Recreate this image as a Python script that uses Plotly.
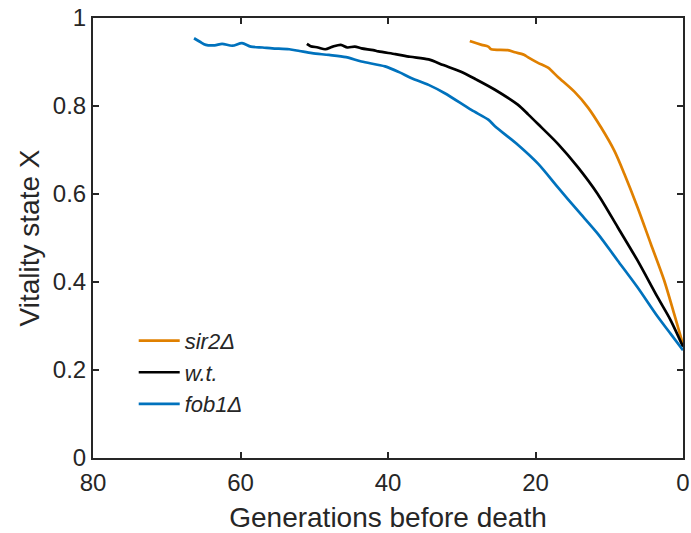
import plotly.graph_objects as go

# Generations before death (x) and vitality state X (y)
sir2_gen = [28.9, 28.6, 27.3, 26.4, 26.0, 23.75, 22.8, 21.5, 21.05, 19.66, 18.3, 16.96, 14.7, 12.9, 11.1, 9.3, 7.96, 6.17, 4.37, 2.56, 1.21, 0.0]
sir2_val = [0.948, 0.946, 0.939, 0.935, 0.929, 0.927, 0.922, 0.916, 0.911, 0.898, 0.887, 0.866, 0.832, 0.797, 0.751, 0.698, 0.646, 0.570, 0.487, 0.404, 0.328, 0.258]

wt_gen = [51.0, 50.5, 49.5, 48.5, 47.5, 46.4, 45.5, 44.5, 43.6, 42.0, 41.3, 39.0, 37.0, 34.5, 32.5, 30.1, 28.0, 25.5, 22.4, 21.0, 19.66, 16.96, 14.26, 11.57, 8.87, 6.17, 3.47, 1.67, 0.0]
wt_val = [0.941, 0.936, 0.933, 0.929, 0.935, 0.939, 0.933, 0.935, 0.931, 0.927, 0.924, 0.918, 0.912, 0.906, 0.893, 0.878, 0.860, 0.837, 0.803, 0.781, 0.759, 0.714, 0.661, 0.600, 0.525, 0.449, 0.366, 0.313, 0.253]

fob1_gen = [66.3, 65.5, 64.7, 63.5, 62.5, 61.1, 59.8, 58.6, 57.0, 55.7, 53.4, 52.0, 50.3, 48.0, 45.7, 43.6, 40.4, 38.5, 36.8, 34.5, 32.3, 28.7, 26.4, 25.5, 22.4, 19.66, 16.96, 14.26, 11.57, 8.87, 6.17, 3.47, 1.67, 0.0]
fob1_val = [0.954, 0.946, 0.939, 0.938, 0.941, 0.937, 0.943, 0.935, 0.933, 0.931, 0.929, 0.925, 0.920, 0.916, 0.911, 0.901, 0.890, 0.877, 0.863, 0.848, 0.829, 0.791, 0.769, 0.754, 0.712, 0.669, 0.615, 0.562, 0.510, 0.449, 0.388, 0.322, 0.282, 0.245]

x_ticks = [80, 60, 40, 20, 0]
y_ticks = [0, 0.2, 0.4, 0.6, 0.8, 1]
y_tick_labels = ["0", "0.2", "0.4", "0.6", "0.8", "1"]

FONT = "Liberation Sans, Arial, sans-serif"
AX = "#262626"

fig = go.Figure()
fig.add_trace(go.Scatter(x=sir2_gen, y=sir2_val, mode="lines", name="<i>sir2Δ</i>",
                         line=dict(color="#E08000", width=2.7, shape="spline", smoothing=0.8)))
fig.add_trace(go.Scatter(x=wt_gen, y=wt_val, mode="lines", name="<i>w.t.</i>",
                         line=dict(color="#000000", width=2.7, shape="spline", smoothing=0.8)))
fig.add_trace(go.Scatter(x=fob1_gen, y=fob1_val, mode="lines", name="<i>fob1Δ</i>",
                         line=dict(color="#0072BD", width=2.7, shape="spline", smoothing=0.8)))

axis_common = dict(showline=True, linecolor=AX, linewidth=2, mirror="ticks",
                   ticks="inside", ticklen=6, tickwidth=2, tickcolor=AX,
                   showgrid=False, zeroline=False, automargin=False,
                   ticklabeloverflow="allow",
                   tickfont=dict(family=FONT, size=24, color=AX))

fig.update_xaxes(range=[80, 0], tickvals=x_ticks, ticktext=[str(t) for t in x_ticks],
                 ticklabelstandoff=2,
                 title=dict(text="Generations before death", font=dict(family=FONT, size=28, color=AX), standoff=14),
                 **axis_common)
fig.update_yaxes(range=[0, 1], tickvals=y_ticks, ticktext=y_tick_labels,
                 title=dict(text="Vitality state X", font=dict(family=FONT, size=28, color=AX), standoff=5),
                 **axis_common)

fig.update_layout(
    width=691, height=533,
    margin=dict(l=93, r=8, t=18, b=75),
    paper_bgcolor="white", plot_bgcolor="white",
    showlegend=True,
    legend=dict(x=0.069, y=0.314, xanchor="left", yanchor="top",
                bgcolor="rgba(0,0,0,0)", borderwidth=0,
                font=dict(family=FONT, size=22, color=AX),
                tracegroupgap=0, itemwidth=41),
)

fig.write_html("out.html")
